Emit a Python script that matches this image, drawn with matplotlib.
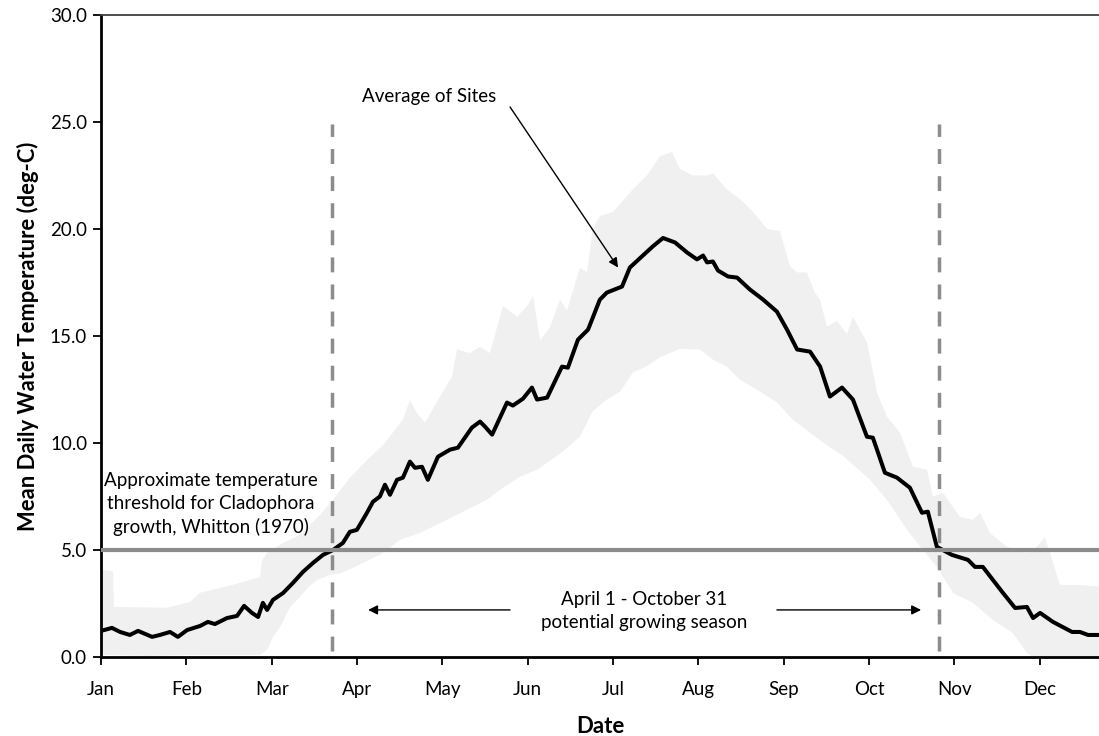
import numpy as np
import matplotlib.pyplot as plt

plt.rcParams['font.family'] = ['Lato', 'DejaVu Sans']

# day of year (axis runs in days, month ticks every 365/12 days)
mean_day = [0, 3.9, 6.8, 10.3, 13.2, 18.2, 21.0, 24.6, 27.4, 30.7, 35.3, 38.1, 40.6, 44.9,
            48.5, 51.0, 53.8, 56.0, 57.7, 59.2, 61.3, 64.9, 68.4, 72.0, 75.6, 79.1, 82.7,
            86.2, 88.7, 91.2, 94.8, 96.9, 99.4, 101.2, 103.0, 105.5, 107.6, 110.1, 111.9,
            114.4, 116.5, 120.1, 124.4, 127.2, 132.2, 135.1, 136.9, 139.4, 144.7, 146.8,
            150.4, 153.6, 155.4, 159.0, 164.3, 166.4, 170.0, 173.6, 177.8, 180.3, 185.7,
            188.5, 192.8, 196.7, 200.3, 204.6, 208.9, 212.4, 214.6, 216.0, 218.1, 219.9,
            223.5, 226.7, 231.3, 235.9, 240.9, 244.5, 248.1, 252.7, 256.3, 259.8, 264.1,
            268.0, 273.0, 275.1, 279.4, 283.7, 288.3, 292.6, 294.7, 297.9, 303.3, 309.0,
            311.5, 314.3, 317.9, 321.5, 325.8, 330.0, 332.2, 334.7, 339.3, 346.1, 348.9,
            351.8, 355.7]
mean_temp = [1.22, 1.36, 1.17, 1.03, 1.22, 0.94, 1.03, 1.17, 0.94, 1.26, 1.45, 1.64, 1.54, 1.82,
             1.92, 2.39, 2.06, 1.87, 2.53, 2.2, 2.67, 2.99, 3.46, 3.98, 4.40, 4.77, 5.0,
             5.33, 5.85, 5.94, 6.74, 7.25, 7.5, 8.05, 7.58, 8.28, 8.38, 9.13, 8.84,
             8.89, 8.28, 9.36, 9.69, 9.78, 10.72, 11.0, 10.76, 10.39, 11.89, 11.75,
             12.07, 12.59, 12.03, 12.12, 13.57, 13.52, 14.83, 15.3, 16.7, 17.03, 17.31,
             18.2, 18.72, 19.19, 19.58, 19.37, 18.9, 18.58, 18.76, 18.44, 18.48, 18.06,
             17.78, 17.73, 17.17, 16.71, 16.14, 15.3, 14.37, 14.27, 13.57, 12.17, 12.59,
             12.03, 10.29, 10.25, 8.61, 8.38, 7.91, 6.74, 6.79, 5.15, 4.77, 4.54,
             4.21, 4.21, 3.60, 2.99, 2.29, 2.34, 1.82, 2.06, 1.64, 1.17, 1.17,
             1.03, 1.03]

max_day = [0, 4.3, 4.6, 23.5, 31.7, 35.3, 47.0, 56.7, 57.4, 59.2, 64.9, 70.9, 78.1, 82.7,
           88.7, 94.8, 100.5, 104.1, 107.6, 110.1, 112.6, 115.5, 120.8, 125.1, 126.9,
           131.5, 135.1, 138.6, 143.3, 148.3, 151.8, 154.0, 156.5, 160.0, 163.6, 166.1,
           170.7, 173.2, 175.3, 177.8, 182.5, 189.6, 194.6, 199.2, 203.5, 206.4, 211.0,
           216.0, 218.1, 223.1, 227.7, 232.4, 237.4, 242.0, 245.6, 248.1, 251.6, 254.5,
           256.3, 258.7, 262.3, 265.9, 268.0, 273.0, 276.6, 280.1, 284.8, 289.4, 294.4,
           296.5, 300.1, 306.1, 310.8, 313.3, 316.8, 322.9, 330.0, 333.6, 336.4, 338.2,
           341.8, 347.8, 355.7]
max_temp = [4.07, 4.0, 2.34, 2.3, 2.57, 3.0, 3.37, 3.74, 4.5, 4.87, 5.33, 5.7, 6.64, 7.35,
            8.38, 9.2, 9.9, 10.5, 11.1, 12.0, 11.4, 10.95, 12.17, 13.1, 14.37,
            14.2, 14.5, 14.2, 16.4, 15.9, 16.4, 16.85, 14.8, 15.4, 16.7, 16.2,
            18.2, 17.97, 20.0, 20.6, 20.8, 21.85, 22.5, 23.4, 23.6, 22.8, 22.5,
            22.5, 22.6, 21.85, 21.4, 20.8, 20.0, 19.9, 18.25, 17.97, 17.97, 17.0,
            16.7, 15.44, 15.7, 15.1, 15.9, 14.7, 12.35, 11.23, 10.48, 8.89, 8.75,
            7.49, 7.67, 6.55, 6.41, 6.74, 5.8, 5.15, 4.87, 5.15, 5.6, 4.87,
            3.37, 3.37, 3.3]

min_day = [0, 17.5, 35.3, 56.7, 59.2, 61.3, 63.8, 67.4, 70.9, 73.4, 77.0, 81.6, 85.2, 89.8,
           93.4, 99.4, 106.6, 113.7, 123.3, 130.4, 137.6, 142.2, 149.3, 155.4, 159.0,
           163.6, 167.2, 170.7, 175.3, 180.3, 185.0, 189.6, 194.6, 199.2, 206.4, 213.5,
           218.1, 223.1, 227.7, 234.9, 240.9, 246.6, 252.7, 258.7, 264.5, 270.5, 274.1,
           280.1, 287.3, 293.0, 297.9, 303.7, 310.8, 317.9, 325.0, 330.0, 332.2, 355.7]
min_temp = [0.1, 0.05, 0.1, 0.1, 0.33, 0.94, 1.4, 2.34, 2.8, 3.2, 3.6, 3.84, 3.9, 4.16,
            4.4, 4.77, 5.47, 5.8, 6.41, 6.88, 7.35, 7.81, 8.42, 8.75, 9.08,
            9.5, 9.9, 10.3, 11.5, 12.03, 12.4, 13.3, 13.6, 14.0, 14.4, 14.37,
            13.9, 13.57, 12.96, 12.4, 11.9, 11.09, 10.48, 9.9, 9.4, 8.7, 8.28,
            7.35, 5.94, 5.0, 4.21, 2.99, 2.53, 1.73, 1.12, 0.19, 0.0, 0.0]

months = ['Jan', 'Feb', 'Mar', 'Apr', 'May', 'Jun', 'Jul', 'Aug', 'Sep', 'Oct', 'Nov', 'Dec']
season_start = 82.4
season_end = 298.7
threshold = 5.0

fig = plt.figure(figsize=(10.99, 7.36), dpi=100)
ax = fig.add_axes([101/1099, 1 - 657/736, 1 - 101/1099, (657 - 15)/736])

# range of sites
band_x = np.concatenate([max_day, min_day[::-1]])
band_y = np.concatenate([max_temp, min_temp[::-1]])
ax.fill(band_x, band_y, color='#f0f0f0', lw=0, zorder=1)

ax.plot(mean_day, mean_temp, color='black', lw=2.9, solid_joinstyle='round', zorder=3)

ax.axhline(threshold, color='#8c8c8c', lw=3, zorder=4)
for d in [season_start, season_end]:
    ax.plot([d, d], [0.3, 24.9], color='#8c8c8c', lw=2.5, dashes=(4.3, 3.5), zorder=4)

ax.set_xlim(0, 355.7)
ax.set_ylim(0, 30)
ax.set_xticks(np.arange(12) * 365 / 12)
ax.set_xticklabels(months)
ax.set_yticks(np.arange(0, 31, 5))
ax.set_yticklabels(['%.1f' % v for v in np.arange(0, 31, 5)])
ax.tick_params(labelsize=13.5, length=6, width=1.3, colors='black', pad=4)
ax.tick_params(axis='x', pad=11)

ax.spines['right'].set_visible(False)
ax.spines['left'].set_linewidth(2)
ax.spines['bottom'].set_linewidth(2)
ax.spines['top'].set_color('#404040')
ax.spines['top'].set_linewidth(1.3)

ax.set_xlabel('Date', fontsize=16, fontweight='bold', labelpad=13)
ax.set_ylabel('Mean Daily Water Temperature (deg-C)', fontsize=15.8, fontweight='bold', labelpad=8)

ax.text(39.2, 7.15, 'Approximate temperature\nthreshold for Cladophora\ngrowth, Whitton (1970)',
        ha='center', va='center', fontsize=13.5, linespacing=1.42, zorder=5)
ax.text(116.9, 26.2, 'Average of Sites', ha='center', va='center', fontsize=13.5)
ax.annotate('', xy=(184.3, 18.2), xytext=(145.8, 25.7),
            arrowprops=dict(arrowstyle='-|>', color='black', lw=1, mutation_scale=14,
                            shrinkA=0, shrinkB=0))
ax.text(193.5, 2.15, 'April 1 - October 31\npotential growing season',
        ha='center', va='center', fontsize=13.5, linespacing=1.42)
ax.annotate('', xy=(95.2, 2.2), xytext=(145.8, 2.2),
            arrowprops=dict(arrowstyle='-|>', color='black', lw=1, mutation_scale=14,
                            shrinkA=0, shrinkB=0))
ax.annotate('', xy=(292.3, 2.2), xytext=(240.9, 2.2),
            arrowprops=dict(arrowstyle='-|>', color='black', lw=1, mutation_scale=14,
                            shrinkA=0, shrinkB=0))

fig.savefig('out.png', dpi=100)
